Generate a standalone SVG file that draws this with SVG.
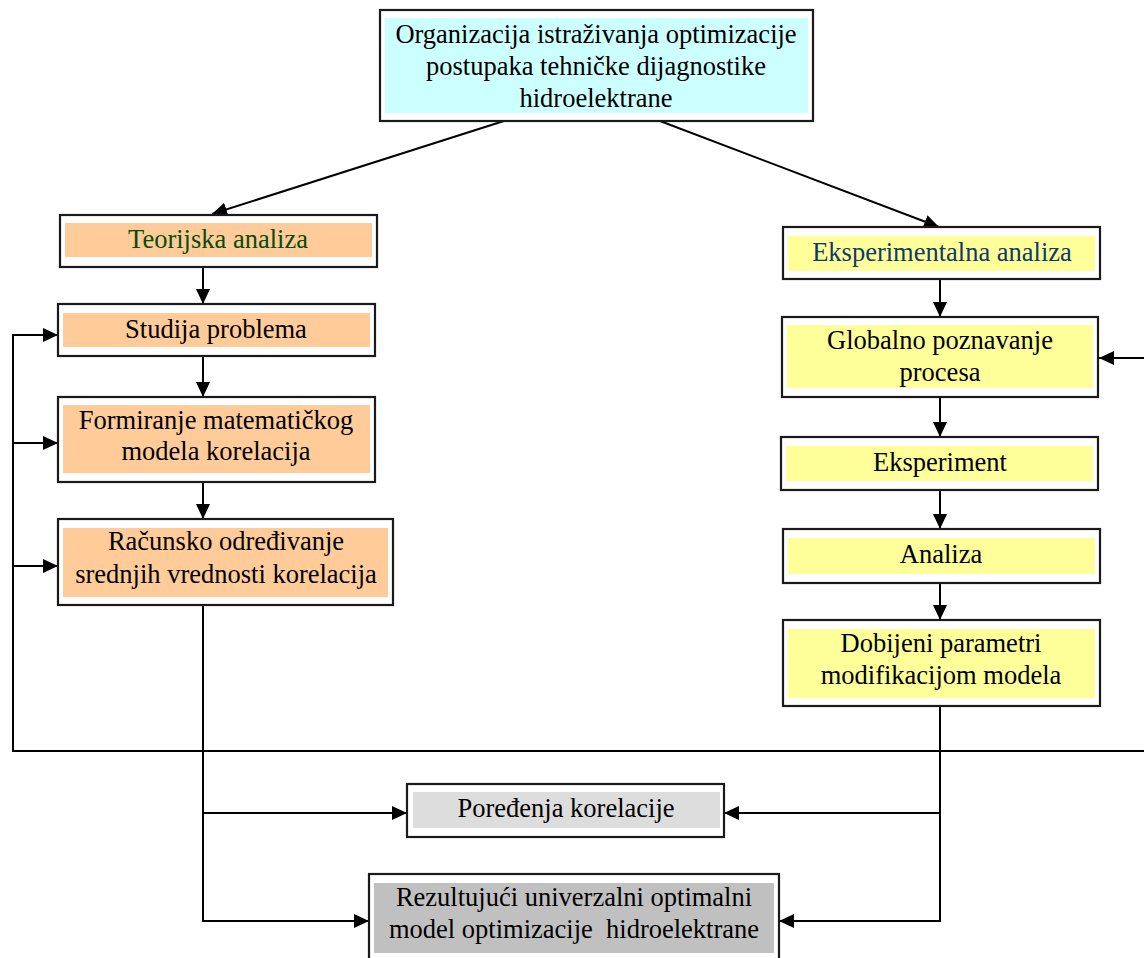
<svg xmlns="http://www.w3.org/2000/svg" width="1144" height="958" viewBox="0 0 1144 958">
<defs>
<style>
.outer{fill:#ffffff;stroke:#1a1a1a;stroke-width:2.2}
.cyan{fill:#ccffff}
.orange{fill:#ffcc99}
.yellow{fill:#ffff99}
.gray1{fill:#dddddd}
.gray2{fill:#c0c0c0}
text{font-family:"Liberation Serif","Times New Roman",serif;font-size:26.5px;fill:#000;text-anchor:middle}
.green{fill:#0b4a0b}
.blue{fill:#0d3a6b}
.conn{fill:none;stroke:#000;stroke-width:2}
</style>
<marker id="arr" markerUnits="userSpaceOnUse" markerWidth="16" markerHeight="14" refX="15" refY="7" orient="auto">
<path d="M0,0 L15,7 L0,14 z" fill="#000"/>
</marker>
</defs>
<rect width="1144" height="958" fill="#ffffff"/>

<g id="connectors">
<line class="conn" x1="507" y1="120" x2="212" y2="214" marker-end="url(#arr)"/>
<line class="conn" x1="660" y1="121" x2="939" y2="227" marker-end="url(#arr)"/>
<line class="conn" x1="203" y1="267" x2="203" y2="304" marker-end="url(#arr)"/>
<line class="conn" x1="203" y1="356" x2="203" y2="397" marker-end="url(#arr)"/>
<line class="conn" x1="203" y1="482" x2="203" y2="519" marker-end="url(#arr)"/>
<polyline class="conn" points="1144,751 13,751 13,335 58,335" marker-end="url(#arr)"/>
<line class="conn" x1="13" y1="443" x2="58" y2="443" marker-end="url(#arr)"/>
<line class="conn" x1="13" y1="566" x2="58" y2="566" marker-end="url(#arr)"/>
<line class="conn" x1="1144" y1="358" x2="1099" y2="358" marker-end="url(#arr)"/>
<line class="conn" x1="940" y1="279" x2="940" y2="317" marker-end="url(#arr)"/>
<line class="conn" x1="940" y1="397" x2="940" y2="437" marker-end="url(#arr)"/>
<line class="conn" x1="940" y1="490" x2="940" y2="529" marker-end="url(#arr)"/>
<line class="conn" x1="940" y1="583" x2="940" y2="620" marker-end="url(#arr)"/>
<polyline class="conn" points="203,605 203,921 369,921" marker-end="url(#arr)"/>
<line class="conn" x1="203" y1="813" x2="407" y2="813" marker-end="url(#arr)"/>
<polyline class="conn" points="940,706 940,921 779,921" marker-end="url(#arr)"/>
<line class="conn" x1="940" y1="813" x2="724" y2="813" marker-end="url(#arr)"/>
</g>

<g id="n-organizacija">
<rect class="outer" x="380" y="10" width="433" height="111"/>
<rect class="cyan" x="385" y="18" width="423" height="95"/>
<text x="596" y="43">Organizacija istraživanja optimizacije</text>
<text x="596" y="75">postupaka tehničke dijagnostike</text>
<text x="596" y="107">hidroelektrane</text>
</g>

<g id="n-teorijska">
<rect class="outer" x="60" y="215" width="317" height="52"/>
<rect class="orange" x="65" y="223" width="307" height="34"/>
<text class="green" x="218" y="248">Teorijska analiza</text>
</g>

<g id="n-studija">
<rect class="outer" x="58" y="304" width="317" height="52"/>
<rect class="orange" x="63" y="313" width="307" height="34"/>
<text x="216" y="338">Studija problema</text>
</g>

<g id="n-formiranje">
<rect class="outer" x="58" y="397" width="317" height="85"/>
<rect class="orange" x="63" y="405" width="307" height="68"/>
<text x="216" y="429">Formiranje matematičkog</text>
<text x="216" y="460">modela korelacija</text>
</g>

<g id="n-racunsko">
<rect class="outer" x="58" y="519" width="335" height="86"/>
<rect class="orange" x="63" y="528" width="325" height="69"/>
<text x="226" y="550">Računsko određivanje</text>
<text x="226" y="583">srednjih vrednosti korelacija</text>
</g>

<g id="n-eksperimentalna">
<rect class="outer" x="783" y="227" width="317" height="52"/>
<rect class="yellow" x="788" y="236" width="307" height="35"/>
<text class="blue" x="942" y="261">Eksperimentalna analiza</text>
</g>

<g id="n-globalno">
<rect class="outer" x="782" y="317" width="316" height="80"/>
<rect class="yellow" x="787" y="325" width="306" height="63"/>
<text x="940" y="349">Globalno poznavanje</text>
<text x="940" y="381">procesa</text>
</g>

<g id="n-eksperiment">
<rect class="outer" x="781" y="437" width="317" height="53"/>
<rect class="yellow" x="786" y="446" width="307" height="35"/>
<text x="940" y="471">Eksperiment</text>
</g>

<g id="n-analiza">
<rect class="outer" x="783" y="529" width="317" height="54"/>
<rect class="yellow" x="788" y="538" width="307" height="36"/>
<text x="941" y="563">Analiza</text>
</g>

<g id="n-dobijeni">
<rect class="outer" x="783" y="620" width="317" height="86"/>
<rect class="yellow" x="788" y="629" width="307" height="69"/>
<text x="941" y="652">Dobijeni parametri</text>
<text x="941" y="684">modifikacijom modela</text>
</g>

<g id="n-poredjenja">
<rect class="outer" x="407" y="784" width="317" height="53"/>
<rect class="gray1" x="413" y="792" width="307" height="36"/>
<text x="566" y="817">Poređenja korelacije</text>
</g>

<g id="n-rezultujuci">
<rect class="outer" x="369" y="874" width="410" height="92"/>
<rect class="gray2" x="374" y="883" width="400" height="70"/>
<text x="574" y="906">Rezultujući univerzalni optimalni</text>
<text x="574" y="938" xml:space="preserve">model optimizacije  hidroelektrane</text>
</g>
</svg>
